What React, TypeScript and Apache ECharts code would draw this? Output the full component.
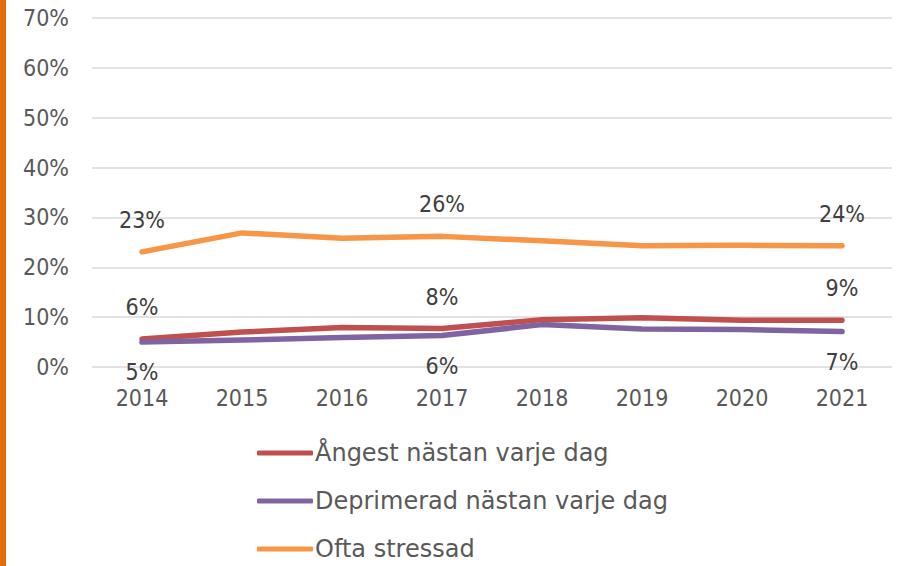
import React, { useEffect, useRef } from "react";
import * as echarts from "echarts";

const years = ["2014", "2015", "2016", "2017", "2018", "2019", "2020", "2021"];
const angest = [5.6, 7.0, 7.9, 7.7, 9.5, 9.9, 9.4, 9.4];
const deprimerad = [5.0, 5.4, 5.9, 6.3, 8.5, 7.6, 7.5, 7.1];
const stressad = [23.1, 26.9, 25.8, 26.2, 25.3, 24.3, 24.4, 24.3];
const labelIdx = [0, 3, 7];
const seriesNames = ["Ångest nästan varje dag", "Deprimerad nästan varje dag", "Ofta stressad"];
const colors = ["#C0504D", "#8064A2", "#F79646"];
const yTicks = [0, 10, 20, 30, 40, 50, 60, 70];

const FONT = "DejaVu Sans Condensed";
const LEGEND_FONT = "DejaVu Sans";

function makeData(vals: number[], pos: "top" | "bottom", dist: number) {
  return vals.map((v, i) => ({
    value: v,
    label: {
      show: labelIdx.includes(i),
      position: pos,
      distance: dist,
      formatter: () => Math.round(v) + "%",
      color: "#404040",
      fontSize: 23,
      lineHeight: 22,
      fontFamily: FONT,
    },
  }));
}

function lineSeries(idx: number, vals: number[], pos: "top" | "bottom", dist: number, z: number) {
  return {
    name: seriesNames[idx],
    type: "line",
    data: makeData(vals, pos, dist),
    symbol: "circle",
    symbolSize: 0,
    showSymbol: true,
    lineStyle: { width: 5.5, color: colors[idx], cap: "round", join: "round" },
    itemStyle: { color: colors[idx] },
    z,
  };
}

export default function App() {
  const ref = useRef<HTMLDivElement>(null);
  useEffect(() => {
    document.body.style.margin = "0";
    if (!ref.current) return;
    const chart = echarts.init(ref.current, null, { renderer: "svg" });
    chart.setOption({
      animation: false,
      backgroundColor: "#ffffff",
      graphic: [
        { type: "rect", left: 0, top: 0, shape: { x: 0, y: 0, width: 6, height: 566 }, style: { fill: "#E46C0A" } },
      ],
      grid: { left: 92, right: 5, top: 18, height: 349, containLabel: false },
      xAxis: {
        type: "category",
        data: years,
        boundaryGap: true,
        axisLine: { show: false },
        axisTick: { show: false },
        axisLabel: { color: "#595959", fontSize: 23, lineHeight: 22, fontFamily: FONT, margin: 20 },
      },
      yAxis: {
        type: "value",
        min: 0,
        max: yTicks[yTicks.length - 1],
        interval: 10,
        axisLine: { show: false },
        axisTick: { show: false },
        axisLabel: { color: "#595959", fontSize: 23, fontFamily: FONT, margin: 23, formatter: (v: number) => v + "%" },
        splitLine: { lineStyle: { color: "#D9D9D9", width: 1.5 } },
      },
      legend: {
        orient: "vertical",
        left: 257,
        top: 441,
        padding: 0,
        icon: "roundRect",
        itemWidth: 56,
        itemHeight: 5,
        itemGap: 24,
        textStyle: { color: "#595959", fontSize: 24, fontFamily: LEGEND_FONT, lineHeight: 24, padding: [0, 0, 0, -3] },
        data: seriesNames,
      },
      series: [
        lineSeries(0, angest, "top", 21, 3),
        lineSeries(1, deprimerad, "bottom", 19, 4),
        lineSeries(2, stressad, "top", 21, 2),
      ],
    });
    return () => chart.dispose();
  }, []);
  return <div ref={ref} style={{ width: 897, height: 566 }} />;
}
